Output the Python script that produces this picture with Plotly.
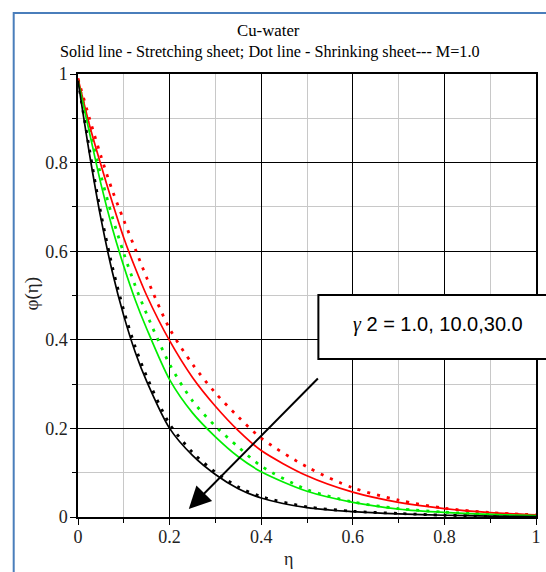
import plotly.graph_objects as go

eta = [0, 0.025, 0.05, 0.075, 0.1, 0.125, 0.15, 0.2, 0.25, 0.3, 0.35, 0.4, 0.5, 0.6, 0.7, 0.8, 0.9, 1.0]

black_solid = [0.985, 0.82, 0.674, 0.553, 0.454, 0.372, 0.306, 0.20, 0.139, 0.096, 0.064, 0.043, 0.021, 0.012, 0.007, 0.004, 0.002, 0.001]
black_dot = [0.985, 0.83, 0.685, 0.565, 0.466, 0.384, 0.317, 0.21, 0.146, 0.101, 0.068, 0.046, 0.023, 0.013, 0.008, 0.004, 0.002, 0.001]
green_solid = [0.985, 0.868, 0.752, 0.652, 0.566, 0.49, 0.425, 0.31, 0.235, 0.181, 0.136, 0.102, 0.058, 0.033, 0.018, 0.0105, 0.006, 0.0033]
green_dot = [0.985, 0.878, 0.771, 0.677, 0.595, 0.522, 0.458, 0.345, 0.262, 0.205, 0.158, 0.115, 0.062, 0.034, 0.019, 0.011, 0.006, 0.0035]
red_solid = [0.99, 0.885, 0.795, 0.71, 0.63, 0.562, 0.50, 0.398, 0.315, 0.25, 0.195, 0.15, 0.093, 0.056, 0.033, 0.019, 0.01, 0.005]
red_dot = [0.99, 0.90, 0.815, 0.737, 0.67, 0.605, 0.54, 0.425, 0.345, 0.28, 0.226, 0.178, 0.113, 0.066, 0.038, 0.02, 0.01, 0.005]

series = [
    (red_dot, "#ff0000", True),
    (green_dot, "#00ee00", True),
    (black_dot, "#000000", True),
    (red_solid, "#ff0000", False),
    (green_solid, "#00ee00", False),
    (black_solid, "#000000", False),
]

fig = go.Figure()
for ys, col, dotted in series:
    fig.add_trace(go.Scatter(
        x=eta, y=ys, mode="lines",
        line=dict(color=col, width=2.8 if dotted else 1.7,
                  dash="3px,7px" if dotted else "solid", shape="spline", smoothing=0.8),
        showlegend=False, hoverinfo="skip"))

serif = "Liberation Serif, Times New Roman, serif"
axis_common = dict(
    range=[0, 1], dtick=0.2, showgrid=True, gridcolor="#000000", gridwidth=1,
    showline=True, linecolor="#000000", linewidth=1.5, mirror=True,
    ticks="outside", ticklen=6, tickcolor="#000000", tickwidth=1,
    tickfont=dict(family=serif, size=18, color="#222222"),
    zeroline=False,
    minor=dict(dtick=0.1, showgrid=True, gridcolor="#c8c8c8", gridwidth=1, ticks="outside", ticklen=4, tickcolor="#000000"),
)

fig.update_layout(
    width=546, height=572,
    margin=dict(l=78, r=5, t=74, b=55),
    paper_bgcolor="white", plot_bgcolor="white",
    xaxis=dict(axis_common, ticklabelstandoff=-3),
    yaxis=dict(axis_common, ticklabelstandoff=-1),
    font=dict(family=serif),
)

# Titles
fig.add_annotation(text="Cu-water", xref="paper", yref="paper", x=(271 - 78) / 463, y=(517 - 31) / 443,
                   showarrow=False, font=dict(family=serif, size=16.8, color="#000"), xanchor="center", yanchor="middle")
fig.add_annotation(text="Solid line - Stretching sheet; Dot line - Shrinking sheet--- M=1.0", xref="paper", yref="paper",
                   x=(272 - 78) / 463, y=(517 - 52) / 443,
                   showarrow=False, font=dict(family=serif, size=16.2, color="#000"), xanchor="center", yanchor="middle")
# axis titles
fig.add_annotation(text="η", xref="paper", yref="paper", x=(291 - 78) / 463, y=(517 - 559) / 443,
                   showarrow=False, font=dict(family=serif, size=18, color="#222"), xanchor="center", yanchor="middle")
fig.add_annotation(text="φ(η)", xref="paper", yref="paper", x=(32 - 78) / 463, y=(517 - 293) / 443,
                   showarrow=False, textangle=-90, font=dict(family=serif, size=19, color="#222"), xanchor="center", yanchor="middle")

# blue frame
fig.add_shape(type="rect", xref="paper", yref="paper",
              x0=(13 - 78) / 463, x1=1.2, y0=-0.3, y1=(517 - 13) / 443,
              line=dict(color="#4a7ebb", width=2), fillcolor="rgba(0,0,0,0)", layer="above")

# label box
fig.add_shape(type="rect", xref="paper", yref="paper",
              x0=(321 - 78) / 463, x1=1.2, y0=(517 - 359) / 443, y1=(517 - 295) / 443,
              line=dict(color="#000000", width=2), fillcolor="white", layer="above")
fig.add_annotation(text="<i><span style='font-family:Liberation Serif'>γ</span></i> 2 = 1.0, 10.0,30.0",
                   xref="paper", yref="paper", x=(442 - 78) / 463, y=(517 - 324) / 443,
                   showarrow=False, font=dict(family="Liberation Sans, Arial, sans-serif", size=20, color="#000"),
                   xanchor="center", yanchor="middle")

# arrow
fig.add_annotation(x=(190 - 78) / 463, y=(517 - 509) / 443, ax=(322 - 78) / 463, ay=(517 - 377) / 443,
                   xref="x", yref="y", axref="x", ayref="y", text="", showarrow=True,
                   arrowhead=2, arrowsize=2.2, arrowwidth=2, arrowcolor="#000")

fig.write_html("out.html")
